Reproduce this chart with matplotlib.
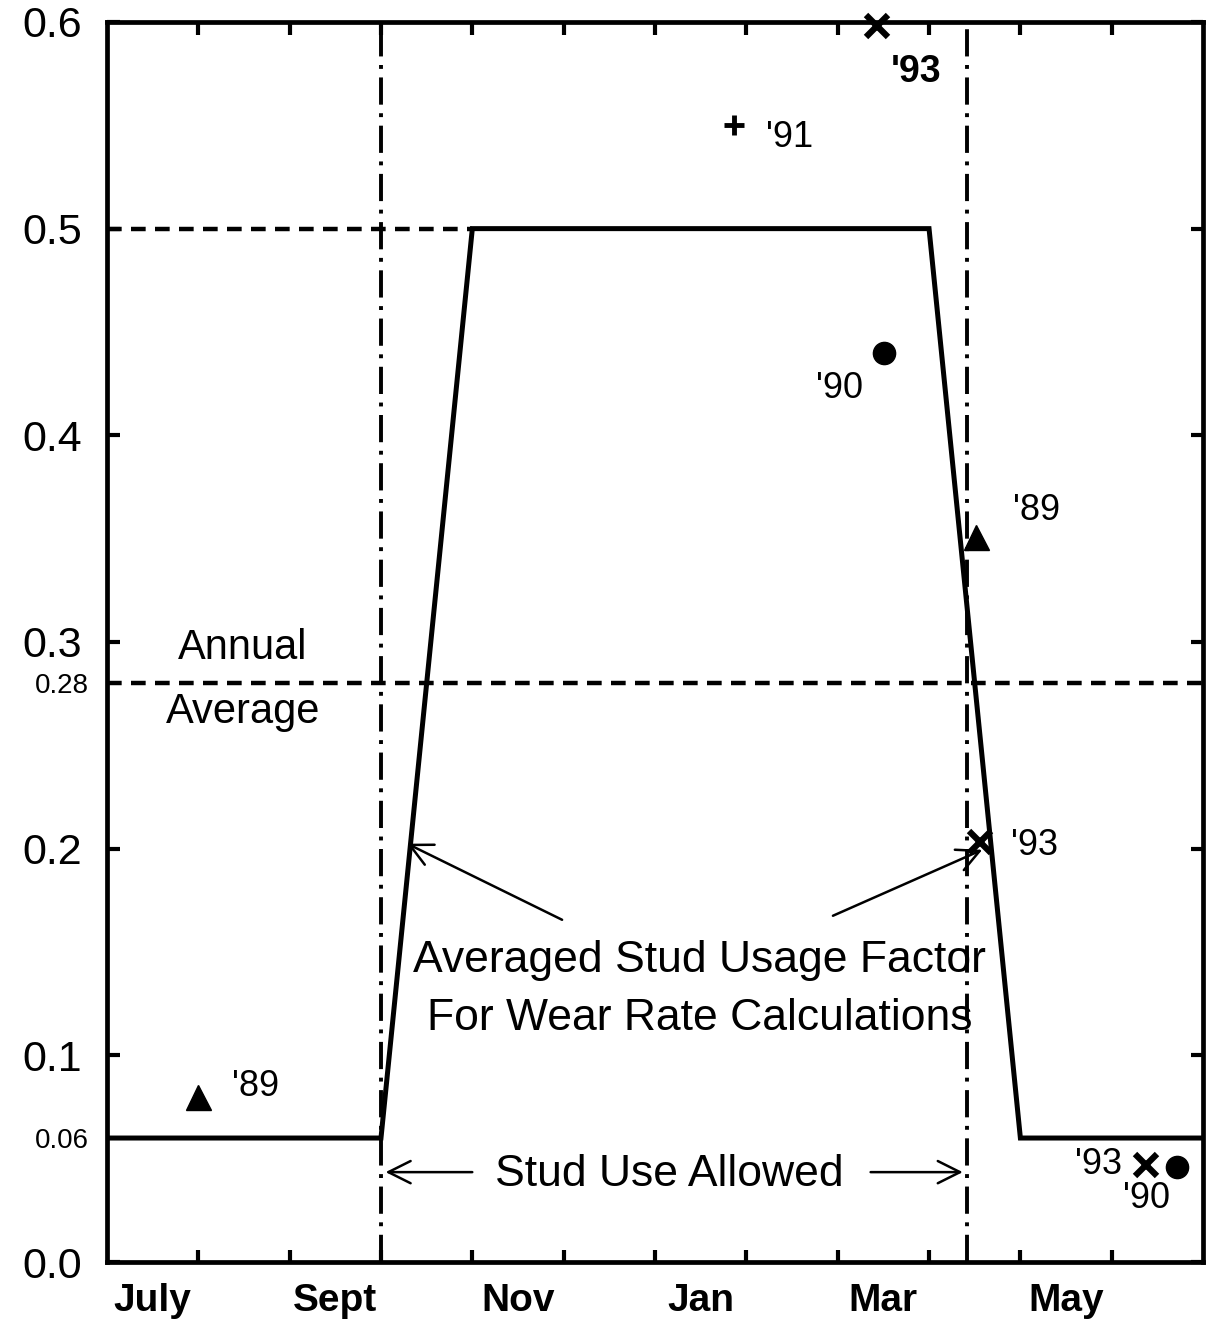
import matplotlib
matplotlib.use("Agg")
import matplotlib.pyplot as plt
from matplotlib.ticker import FixedLocator, FixedFormatter

plt.rcParams['font.family'] = ['Liberation Sans', 'DejaVu Sans']

# x axis: months counted from July 1 (0) to next July 1 (12)
month_labels = ['July', 'Sept', 'Nov', 'Jan', 'Mar', 'May']
month_label_pos = [0.5, 2.5, 4.5, 6.5, 8.5, 10.5]
month_ticks = [1, 2, 3, 4, 5, 6, 7, 8, 9, 10, 11]

y_major = [0.0, 0.1, 0.2, 0.3, 0.4, 0.5, 0.6]
y_extra = [0.06, 0.28]

# averaged stud usage factor for wear rate calculations
factor_x = [0, 3.0, 4.0, 9.0, 10.0, 12]
factor_y = [0.06, 0.06, 0.5, 0.5, 0.06, 0.06]

annual_avg = 0.28
peak_level = 0.5
stud_start = 3.0
stud_end = 9.42

# observed usage factors by year
obs89_x = [1.0, 9.51]
obs89_y = [0.080, 0.351]
obs90_x = [8.51, 11.72]
obs90_y = [0.440, 0.046]
obs91_x = [6.86]
obs91_y = [0.550]
obs93_x = [8.43, 9.56, 11.37]
obs93_y = [0.598, 0.203, 0.047]

fig = plt.figure(figsize=(12.14, 13.30), dpi=100)
ax = fig.add_axes([0.0881, 0.0511, 0.9029, 0.9324])
ax.set_xlim(0, 12)
ax.set_ylim(0, 0.6)

# reference lines
ax.plot([0, factor_x[2]], [peak_level, peak_level], color='black', lw=3.2,
        dashes=(3.3, 2.1), zorder=2)
ax.axhline(annual_avg, color='black', lw=3.2, dashes=(3.3, 2.1), zorder=2)
for xv in (stud_start, stud_end):
    ax.axvline(xv, color='black', lw=2.8, dashes=(7, 2.2, 1, 2.2), zorder=2)

# the factor curve
ax.plot(factor_x, factor_y, color='black', lw=3.6, solid_joinstyle='miter', zorder=3)

# observed points
ms = dict(color='black', linestyle='none', clip_on=False, zorder=4)
ax.plot(obs89_x, obs89_y, marker='^', markersize=18, **ms)
ax.plot(obs90_x, obs90_y, marker='o', markersize=16, **ms)
ax.plot(obs91_x, obs91_y, marker='+', markersize=14, markeredgewidth=3.5, **ms)
ax.plot(obs93_x, obs93_y, marker='x', markersize=16, markeredgewidth=4.5, **ms)

lab = dict(textcoords='offset points', fontsize=26, va='center')
ax.annotate("'89", (obs89_x[0], obs89_y[0]), xytext=(24, 7), ha='left', **lab)
ax.annotate("'89", (obs89_x[1], obs89_y[1]), xytext=(27, 19), ha='left', **lab)
ax.annotate("'90", (obs90_x[0], obs90_y[0]), xytext=(-15, -26), ha='right', **lab)
ax.annotate("'90", (obs90_x[1], obs90_y[1]), xytext=(-22, -23), ha='center', **lab)
ax.annotate("'91", (obs91_x[0], obs91_y[0]), xytext=(23, -9), ha='left', **lab)
ax.annotate("'93", (obs93_x[0], obs93_y[0]), xytext=(10, -33), ha='left',
            fontweight='bold', textcoords='offset points', fontsize=27, va='center')
ax.annotate("'93", (obs93_x[1], obs93_y[1]), xytext=(22, -2), ha='left', **lab)
ax.annotate("'93", (obs93_x[2], obs93_y[2]), xytext=(-17, 0), ha='right', **lab)

# text annotations
ax.text(1.49, 0.297, 'Annual', ha='center', va='center', fontsize=30)
ax.text(1.49, 0.266, 'Average', ha='center', va='center', fontsize=30)

ax.text(6.49, 0.146, 'Averaged Stud Usage Factor', ha='center', va='center', fontsize=32)
ax.text(6.49, 0.118, 'For Wear Rate Calculations', ha='center', va='center', fontsize=32)
arrow = dict(arrowstyle='->', color='black', lw=1.8, mutation_scale=40)
ax.annotate('', xy=(3.26, 0.203), xytext=(5.01, 0.165), arrowprops=arrow)
ax.annotate('', xy=(9.61, 0.200), xytext=(7.92, 0.167), arrowprops=arrow)

ax.text(6.16, 0.0425, 'Stud Use Allowed', ha='center', va='center', fontsize=32)
ax.annotate('', xy=(stud_start + 0.02, 0.0435), xytext=(4.03, 0.0435), arrowprops=arrow)
ax.annotate('', xy=(stud_end - 0.02, 0.0435), xytext=(8.33, 0.0435), arrowprops=arrow)

# axes styling
for sp in ax.spines.values():
    sp.set_linewidth(3.4)

ax.xaxis.set_major_locator(FixedLocator(month_label_pos))
ax.xaxis.set_major_formatter(FixedFormatter(month_labels))
ax.xaxis.set_minor_locator(FixedLocator(month_ticks))
ax.tick_params(axis='x', which='major', length=0, pad=15, labelsize=28)
ax.tick_params(axis='x', which='minor', direction='in', length=9, width=3,
               top=True, bottom=True)
for t in ax.get_xticklabels():
    t.set_fontweight('bold')

ax.yaxis.set_major_locator(FixedLocator(y_major))
ax.yaxis.set_major_formatter(FixedFormatter(['%.1f' % v for v in y_major]))
ax.yaxis.set_minor_locator(FixedLocator(y_extra))
ax.yaxis.set_minor_formatter(FixedFormatter(['%.2f' % v for v in y_extra]))
ax.tick_params(axis='y', which='major', direction='in', length=9, width=3,
               left=True, right=True, pad=18, labelsize=31)
ax.tick_params(axis='y', which='minor', length=0, pad=13, labelsize=20)

fig.savefig('out.png', dpi=100, facecolor='white')
